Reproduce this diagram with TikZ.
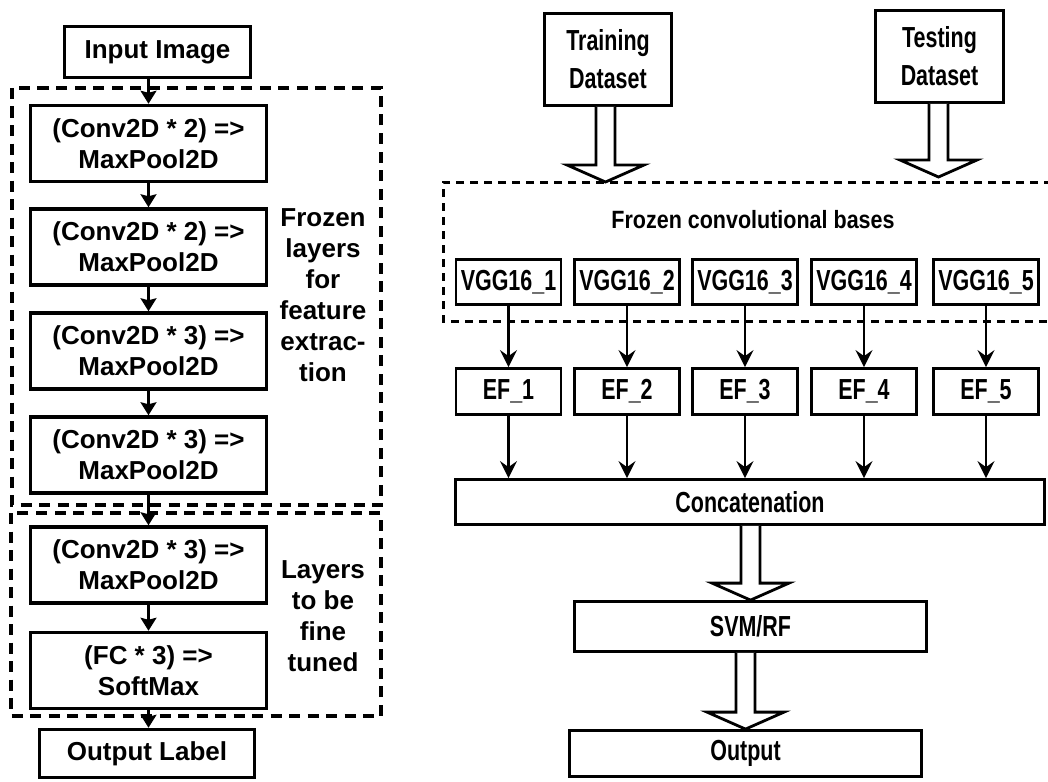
\documentclass[tikz,border=0pt]{standalone}
\usepackage{fontspec}
\usetikzlibrary{arrows.meta,calc}
\newfontfamily\lsans{Liberation Sans}
\newfontfamily\lnarrow[FakeStretch=0.74]{Liberation Sans}
\newfontfamily\lnarrowb[FakeStretch=0.86]{Liberation Sans}
\newcommand\blkarrow[2]{\draw[blk] let \p1=(#1), \p2=(#2) in
  (\x2-9.5pt,\y1) -- (\x2-9.5pt,\y2+17pt) -- (\x2-38.5pt,\y2+17pt) -- (\x2,\y2)
  -- (\x2+38.5pt,\y2+17pt) -- (\x2+9.5pt,\y2+17pt) -- (\x2+9.5pt,\y1);}
\begin{document}
\begin{tikzpicture}[x=1pt,y=-1pt,
  lbox/.style={draw, line width=3.5pt, inner sep=0pt, align=center,
    font=\lsans\bfseries\fontsize{26}{31}\selectfont},
  rbox/.style={draw, line width=2.8pt, inner sep=0pt, align=center,
    font=\lnarrow\bfseries\fontsize{29}{38}\selectfont},
  ltext/.style={align=center, inner sep=0pt, font=\lsans\bfseries\fontsize{26}{31}\selectfont},
  rtext/.style={inner sep=0pt, font=\lnarrowb\bfseries\fontsize{25}{30}\selectfont},
  larr/.style={line width=2.2pt, -{Stealth[length=13pt,width=16pt,inset=2pt]}},
  rarr/.style={line width=2.2pt, -{Stealth[length=17pt,width=17pt,inset=6pt]}},
  ldash/.style={line width=3.5pt, dash pattern=on 11pt off 7.5pt},
  rdash/.style={line width=3pt, dash pattern=on 8pt off 6pt},
  blk/.style={draw, line width=2.8pt, fill=white, line join=miter}]
\useasboundingbox (0,0) rectangle (1048,781);
\fill[white] (0,0) rectangle (1048,781);

% ---------- left column ----------
\draw[ldash] (12,88) rectangle (381,505);
\draw[ldash] (11,513) rectangle (381,716);

\node[lbox, minimum width=186, minimum height=51] (inp) at (157.5,52) {Input Image};
\node[lbox, minimum width=236, minimum height=76] (b1) at (148.5,143.5) {(Conv2D * 2) =>\\MaxPool2D};
\node[lbox, minimum width=236, minimum height=76] (b2) at (148.5,247) {(Conv2D * 2) =>\\MaxPool2D};
\node[lbox, minimum width=236, minimum height=76] (b3) at (148.5,351) {(Conv2D * 3) =>\\MaxPool2D};
\node[lbox, minimum width=236, minimum height=76] (b4) at (148.5,455) {(Conv2D * 3) =>\\MaxPool2D};
\node[lbox, minimum width=236, minimum height=76] (b5) at (148.5,565) {(Conv2D * 3) =>\\MaxPool2D};
\node[lbox, minimum width=236, minimum height=76] (b6) at (148.5,670.5) {(FC * 3) =>\\SoftMax};
\node[lbox, minimum width=215, minimum height=48] (outl) at (147,753.5) {Output Label};

\node[ltext] (frz) at (323,295) {Frozen\\layers\\for\\feature\\extrac-\\tion};
\node[ltext] (fine) at (323,616) {Layers\\to be\\fine\\tuned};

\draw[larr] (inp.south -| b1.north) -- (b1.north);
\draw[larr] (b1.south) -- (b2.north);
\draw[larr] (b2.south) -- (b3.north);
\draw[larr] (b3.south) -- (b4.north);
\draw[larr] (b4.south) -- (b5.north);
\draw[larr] (b5.south) -- (b6.north);
\draw[larr] (b6.south) -- (b6.south |- outl.north);

% ---------- right column ----------
\draw[rdash] (1052,182) -- (443,182) -- (443,321) -- (1052,321);

\node[rbox, minimum width=127, minimum height=92] (train) at (608,59.5) {Training\\Dataset};
\node[rbox, minimum width=128, minimum height=92] (test) at (939.5,56.5) {Testing\\Dataset};
\coordinate (t1) at (605.5,182);
\coordinate (t2) at (938.5,177);
\blkarrow{train.south}{t1}
\blkarrow{test.south}{t2}

\node[rtext] (fcb) at (753,220) {Frozen convolutional bases};

\foreach \i/\x in {1/508.5,2/627,3/745,4/864,5/986}{
  \node[rbox, minimum width=105, minimum height=45] (v\i) at (\x,282) {VGG16\_\i};
  \node[rbox, minimum width=105, minimum height=46] (e\i) at (\x,391.5) {EF\_\i};
}
\node[rbox, minimum width=589, minimum height=45] (cat) at (750,502) {Concatenation};
\node[rbox, minimum width=352, minimum height=50] (svm) at (750.5,626.5) {SVM/RF};
\node[rbox, minimum width=352, minimum height=46] (outp) at (745.5,753.5) {Output};

\foreach \i in {1,...,5}{
  \draw[rarr] (v\i.south) -- (e\i.north);
  \draw[rarr] (e\i.south) -- (e\i.south |- cat.north);
}
\blkarrow{cat.south}{svm.north}
\blkarrow{svm.south}{outp.north}
\end{tikzpicture}
\end{document}
